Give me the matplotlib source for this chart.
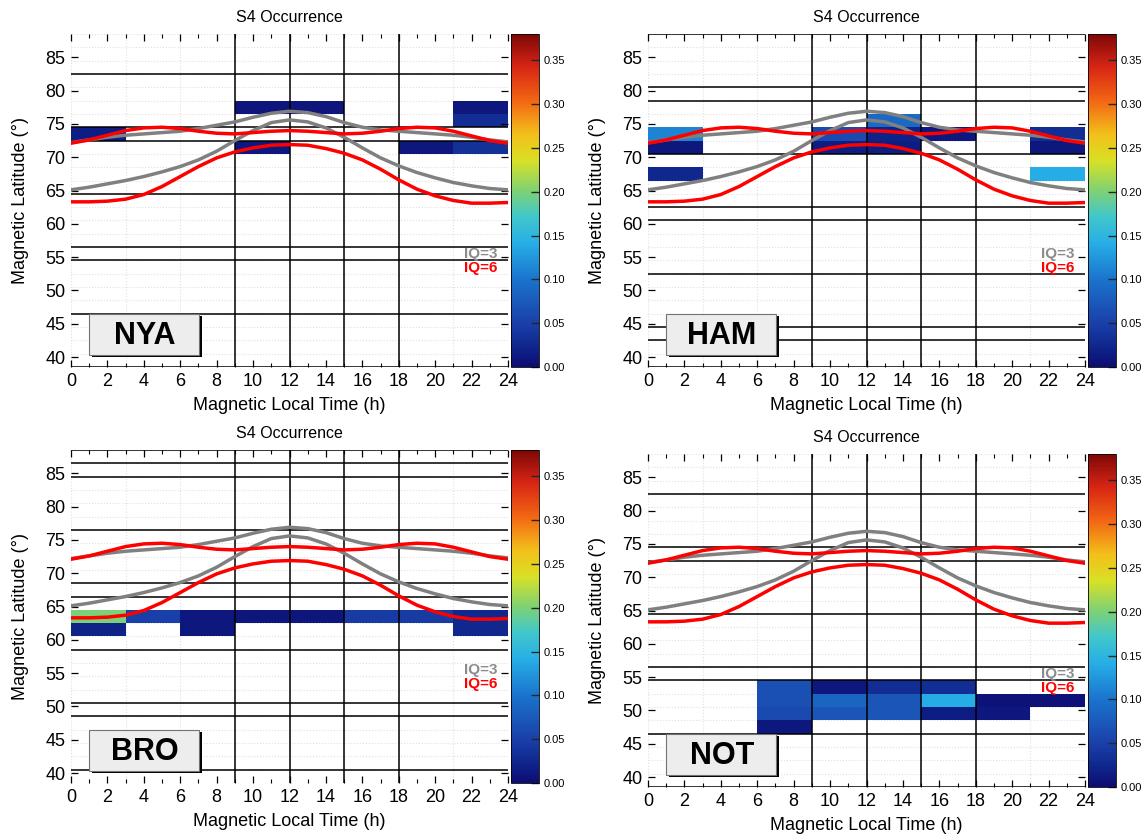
import numpy as np
import matplotlib
matplotlib.use("Agg")
import matplotlib.pyplot as plt
from matplotlib.colors import LinearSegmentedColormap
from matplotlib.patches import Rectangle

plt.rcParams['font.family'] = ['Liberation Sans', 'DejaVu Sans']

# bins: 3 h in MLT, 2 deg in magnetic latitude
hour_edges = np.arange(0, 25, 3)
lat_edges = np.arange(38.5, 89.0, 2)

# auroral oval boundaries (hourly)
mlt = np.arange(0, 25)
iq3_pole = [72.2, 72.6, 73.0, 73.3, 73.5, 73.7, 73.9, 74.3, 74.8, 75.3, 76.0, 76.6, 76.9,
            76.7, 76.1, 75.2, 74.5, 74.1, 73.9, 73.7, 73.5, 73.3, 73.0, 72.6, 72.3]
iq3_equator = [65.1, 65.5, 66.0, 66.5, 67.1, 67.8, 68.6, 69.6, 70.9, 72.5, 74.0, 75.2, 75.6,
               75.3, 74.4, 73.0, 71.4, 69.9, 68.7, 67.7, 66.9, 66.2, 65.7, 65.3, 65.1]
iq6_pole = [72.1, 72.6, 73.3, 74.0, 74.4, 74.5, 74.3, 73.9, 73.6, 73.5, 73.7, 73.9, 74.0,
            73.9, 73.7, 73.5, 73.6, 73.9, 74.3, 74.5, 74.4, 73.9, 73.2, 72.5, 72.1]
iq6_equator = [63.3, 63.3, 63.4, 63.7, 64.4, 65.6, 67.1, 68.6, 69.9, 70.8, 71.4, 71.8, 71.9,
               71.8, 71.3, 70.6, 69.6, 68.2, 66.6, 65.2, 64.2, 63.5, 63.1, 63.1, 63.2]

# occurrence cells: (MLT bin start, lat bin lower edge, value)
nya_cells = [(0, 72.5, 0.015), (9, 76.5, 0.008), (12, 76.5, 0.008), (9, 70.5, 0.01),
             (18, 70.5, 0.01), (21, 70.5, 0.035), (21, 76.5, 0.01), (21, 74.5, 0.03)]
ham_cells = [(0, 72.5, 0.11), (0, 70.5, 0.01), (0, 66.5, 0.025), (9, 72.5, 0.06),
             (9, 70.5, 0.015), (12, 74.5, 0.09), (12, 72.5, 0.02), (12, 70.5, 0.015),
             (15, 72.5, 0.01), (21, 72.5, 0.03), (21, 70.5, 0.01), (21, 66.5, 0.14)]
bro_cells = [(0, 62.5, 0.20), (3, 62.5, 0.05), (6, 62.5, 0.01), (9, 62.5, 0.008),
             (12, 62.5, 0.008), (15, 62.5, 0.045), (18, 62.5, 0.045), (21, 62.5, 0.025),
             (0, 60.5, 0.02), (6, 60.5, 0.01), (21, 60.5, 0.025)]
not_cells = [(6, 52.5, 0.065), (6, 50.5, 0.065), (6, 48.5, 0.06), (6, 46.5, 0.01),
             (9, 52.5, 0.01), (9, 50.5, 0.085), (9, 48.5, 0.07),
             (12, 52.5, 0.03), (12, 50.5, 0.07), (12, 48.5, 0.07),
             (15, 52.5, 0.03), (15, 50.5, 0.14), (15, 48.5, 0.015),
             (18, 50.5, 0.005), (18, 48.5, 0.01), (21, 50.5, 0.005)]

# black reference lines per station
nya_lat_lines = [82.5, 74.5, 72.5, 64.5, 56.5, 54.5, 46.5, 38.5]
ham_lat_lines = [88.5, 80.5, 78.5, 70.5, 62.5, 60.5, 52.5, 44.5, 42.5, 38.5]
bro_lat_lines = [88.5, 86.5, 84.5, 76.5, 68.5, 66.5, 58.5, 50.5, 48.5, 40.5]
not_lat_lines = [82.5, 74.5, 72.5, 64.5, 56.5, 54.5, 46.5, 38.5]
mlt_lines = [9, 12, 15, 18]

stations = ['NYA', 'HAM', 'BRO', 'NOT']
cells = {'NYA': nya_cells, 'HAM': ham_cells, 'BRO': bro_cells, 'NOT': not_cells}
lat_lines = {'NYA': nya_lat_lines, 'HAM': ham_lat_lines, 'BRO': bro_lat_lines, 'NOT': not_lat_lines}

vmax = 0.38
cmap = LinearSegmentedColormap.from_list('s4', [
    (0.00, (0.05, 0.05, 0.45)), (0.06, (0.06, 0.15, 0.55)), (0.13, (0.10, 0.25, 0.66)),
    (0.26, (0.10, 0.45, 0.80)), (0.37, (0.15, 0.68, 0.90)), (0.45, (0.25, 0.78, 0.80)),
    (0.53, (0.50, 0.82, 0.45)), (0.62, (0.85, 0.88, 0.15)), (0.70, (0.95, 0.75, 0.10)),
    (0.80, (0.95, 0.40, 0.08)), (0.90, (0.85, 0.15, 0.08)), (1.00, (0.50, 0.03, 0.03))])

W, H = 1146, 839
# pixel boxes: (ax left, ax top, ax bottom, cbar left)
boxes = {'NYA': (71, 34, 367, 511), 'HAM': (648, 34, 367, 1088),
         'BRO': (71, 450, 783, 511), 'NOT': (648, 454, 787, 1088)}

fig = plt.figure(figsize=(W / 100, H / 100), dpi=100)

for st in stations:
    left, top, bottom, cleft = boxes[st]
    ax = fig.add_axes([left / W, 1 - bottom / H, 437 / W, (bottom - top) / H])
    cax = fig.add_axes([cleft / W, 1 - bottom / H, 28 / W, (bottom - top) / H])

    grid = np.full((len(lat_edges) - 1, len(hour_edges) - 1), np.nan)
    for h0, l0, v in cells[st]:
        i = int(round((l0 - lat_edges[0]) / 2))
        j = int(round(h0 / 3))
        grid[i, j] = v
    mesh = ax.pcolormesh(hour_edges, lat_edges, np.ma.masked_invalid(grid),
                         cmap=cmap, vmin=0, vmax=vmax, zorder=1)

    # faint dotted grid at bin edges
    for e in hour_edges:
        ax.axvline(e, color='0.88', lw=0.8, ls=':', zorder=0)
    for e in lat_edges:
        ax.axhline(e, color='0.88', lw=0.8, ls=':', zorder=0)

    for y in lat_lines[st]:
        ax.axhline(y, color='black', lw=1.1, zorder=2)
    for x in mlt_lines:
        ax.axvline(x, color='black', lw=1.1, zorder=2)

    ax.plot(mlt, iq3_pole, color='0.5', lw=2.5, zorder=3)
    ax.plot(mlt, iq3_equator, color='0.5', lw=2.5, zorder=3)
    ax.plot(mlt, iq6_pole, color='#ff0000', lw=2.5, zorder=4)
    ax.plot(mlt, iq6_equator, color='#ff0000', lw=2.5, zorder=4)

    ax.text(23.4, 55.4, 'IQ=3', color='0.55', fontsize=11, fontweight='bold',
            ha='right', va='center', zorder=5)
    ax.text(23.4, 53.4, 'IQ=6', color='#ff0000', fontsize=11, fontweight='bold',
            ha='right', va='center', zorder=5)

    # station label box with shadow
    ax.add_patch(Rectangle((1.15, 40.0), 6.05, 6.15, facecolor='black',
                           edgecolor='none', zorder=6))
    ax.add_patch(Rectangle((1.0, 40.25), 6.05, 6.15, facecolor='#ededed',
                           edgecolor='0.45', lw=0.8, zorder=7))
    ax.text(4.05, 43.2, st, fontsize=22, fontweight='bold', ha='center',
            va='center', zorder=8)

    ax.set_xlim(0, 24)
    ax.set_ylim(38.5, 88.5)
    ax.set_xticks(np.arange(0, 25, 2))
    ax.set_xticks(np.arange(0, 25, 1), minor=True)
    ax.set_yticks(np.arange(40, 86, 5))
    for s in ax.spines.values():
        s.set_visible(False)
    ax.tick_params(which='both', direction='in', top=True, right=True, labelsize=13,
                   pad=4)
    ax.tick_params(which='major', length=5, width=0.9)
    ax.tick_params(which='minor', length=3, width=0.8)
    ax.set_xlabel('Magnetic Local Time (h)', fontsize=13, labelpad=5)
    ax.set_ylabel('Magnetic Latitude (°)', fontsize=13, labelpad=12)
    ax.set_title('S4 Occurrence', fontsize=11.5, pad=9)

    cb = fig.colorbar(mesh, cax=cax)
    cb.set_ticks(np.arange(0, 0.36, 0.05))
    cb.ax.yaxis.set_major_formatter(matplotlib.ticker.FormatStrFormatter('%.2f'))
    cb.ax.tick_params(labelsize=8, direction='in', length=6, width=1, color='0.15', pad=3)
    cb.outline.set_linewidth(0.6)

fig.savefig('out.png', dpi=100)
